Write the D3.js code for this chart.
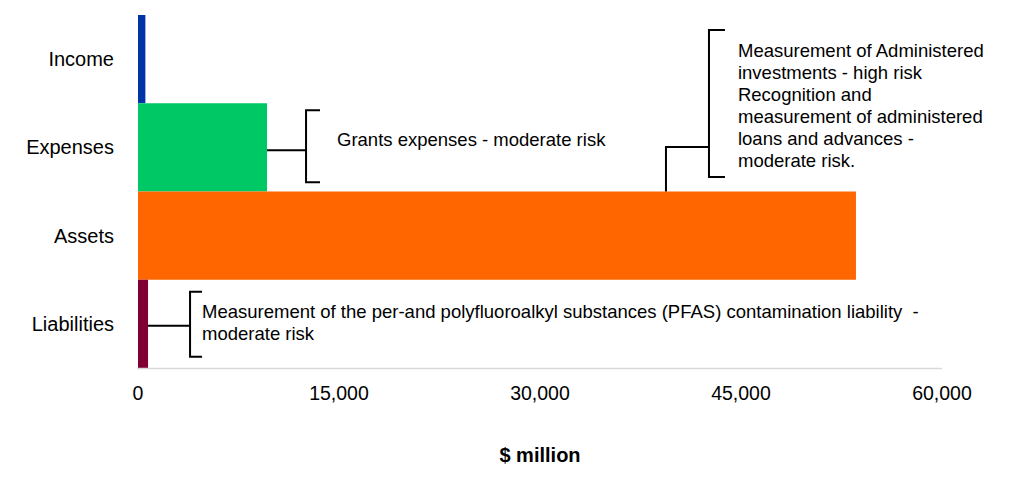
<!DOCTYPE html>
<html>
<head>
<meta charset="utf-8">
<script src="https://cdn.jsdelivr.net/npm/d3@7"></script>
<style>
  body { margin: 0; background: #fff; }
  text { font-family: "Liberation Sans", Arial, sans-serif; }
</style>
</head>
<body>
<div id="my_dataviz"></div>
<script>
// data
var categories = ["Income", "Expenses", "Assets", "Liabilities"];
var values = [550, 9630, 53580, 750];
var colors = ["#0033a8", "#00c864", "#ff6600", "#800033"];
var ticks = [0, 15000, 30000, 45000, 60000];

// annotation texts
var expNote = ["Grants expenses - moderate risk"];
var assetNote = ["Measurement of Administered", "investments - high risk", "Recognition and",
  "measurement of administered", "loans and advances -", "moderate risk."];
var liabNote = ["Measurement of the per-and polyfluoroalkyl substances (PFAS) contamination liability  -",
  "moderate risk"];

var margin = {top: 15, right: 71, bottom: 112, left: 138},
    width = 1013 - margin.left - margin.right,
    height = 480 - margin.top - margin.bottom;

var svg = d3.select("#my_dataviz")
  .append("svg")
    .attr("width", 1013)
    .attr("height", 480)
  .append("g")
    .attr("transform", "translate(" + margin.left + "," + margin.top + ")");

var x = d3.scaleLinear()
  .domain([0, 60000])
  .range([0, width]);

var y = d3.scaleBand()
  .domain(categories)
  .range([0, height])
  .padding(0);

// bars
svg.selectAll("rect.bar")
  .data(categories)
  .enter()
  .append("rect")
    .attr("class", "bar")
    .attr("x", x(0))
    .attr("y", function(d) { return y(d) })
    .attr("width", function(d, i) { return x(values[i]) - x(0) })
    .attr("height", y.bandwidth())
    .attr("fill", function(d, i) { return colors[i] });

// axis line
svg.append("line")
  .attr("x1", x(0) - 1)
  .attr("x2", width)
  .attr("y1", height + 0.5)
  .attr("y2", height + 0.5)
  .attr("stroke", "#d9d9d9")
  .attr("stroke-width", 1.5);

// x tick labels
svg.selectAll("text.tick")
  .data(ticks)
  .enter()
  .append("text")
    .attr("class", "tick")
    .attr("x", function(d) { return x(d) })
    .attr("y", height + 32)
    .attr("text-anchor", "middle")
    .style("font-size", "19.5px")
    .attr("fill", "#000")
    .text(function(d) { return d3.format(",")(d) });

// category labels
svg.selectAll("text.cat")
  .data(categories)
  .enter()
  .append("text")
    .attr("class", "cat")
    .attr("x", -24)
    .attr("y", function(d) { return y(d) + y.bandwidth() / 2 })
    .attr("dy", "0.35em")
    .attr("text-anchor", "end")
    .style("font-size", "20px")
    .text(function(d) { return d });

// axis title
svg.append("text")
  .attr("x", x(30000))
  .attr("y", height + 94)
  .attr("text-anchor", "middle")
  .style("font-size", "20px")
  .style("font-weight", "bold")
  .text("$ million");

// bracket helper: vertical line at bx from top to bottom with hooks to the right
function bracket(bx, top, bottom, hook) {
  svg.append("path")
    .attr("d", "M" + (bx + hook) + "," + top + "H" + bx + "V" + bottom + "H" + (bx + hook))
    .attr("fill", "none")
    .attr("stroke", "#000")
    .attr("stroke-width", 2);
}
function lines(tx, ty, arr, lh) {
  var t = svg.append("text")
    .attr("x", tx)
    .attr("y", ty)
    .style("font-size", "18.5px")
    .style("white-space", "pre");
  arr.forEach(function(s, i) {
    t.append("tspan").attr("x", tx).attr("dy", i == 0 ? 0 : lh).text(s);
  });
}

// Expenses annotation
var ey = y("Expenses") + 47;
svg.append("line")
  .attr("x1", x(values[1])).attr("x2", x(values[1]) + 39)
  .attr("y1", ey).attr("y2", ey)
  .attr("stroke", "#000").attr("stroke-width", 2);
bracket(x(values[1]) + 39, y("Expenses") + 7, y("Expenses") + 79, 14);
lines(x(values[1]) + 70, y("Expenses") + 43, expNote, 22);

// Assets annotation
var sx = x(values[2]) - 190;
svg.append("path")
  .attr("d", "M" + sx + "," + y("Assets") + "V" + 132 + "H" + (sx + 43))
  .attr("fill", "none").attr("stroke", "#000").attr("stroke-width", 2);
bracket(sx + 43, 15, 162, 16);
lines(sx + 72, 42, assetNote, 22);

// Liabilities annotation
var ly = y("Liabilities") + 46;
svg.append("line")
  .attr("x1", x(values[3])).attr("x2", x(values[3]) + 42)
  .attr("y1", ly).attr("y2", ly)
  .attr("stroke", "#000").attr("stroke-width", 2);
bracket(x(values[3]) + 42, y("Liabilities") + 12, y("Liabilities") + 77, 12);
lines(x(values[3]) + 54, y("Liabilities") + 38, liabNote, 22);
</script>
</body>
</html>
